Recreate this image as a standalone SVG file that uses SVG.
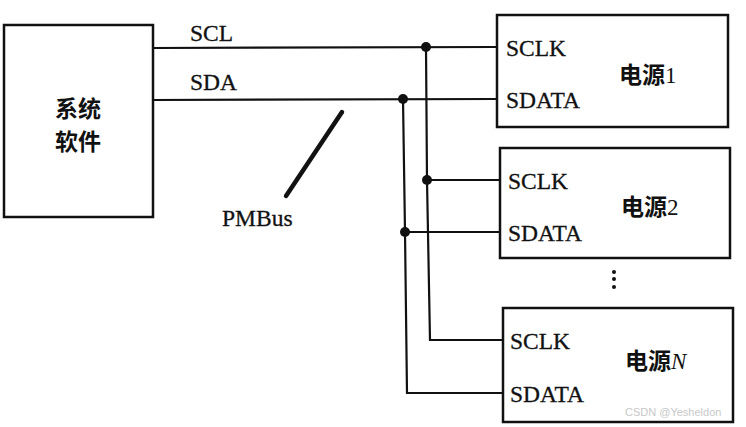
<svg xmlns="http://www.w3.org/2000/svg" width="746" height="427" viewBox="0 0 746 427">
<style>
.box{fill:#fff;stroke:#111;stroke-width:2.5}
.w{fill:none;stroke:#111;stroke-width:2.2}
.t{font-family:"Liberation Serif","Times New Roman",serif;font-size:23.5px;fill:#111;stroke:#111;stroke-width:0.3}
.cn{font-family:"Noto Sans CJK SC",sans-serif;font-size:23px;font-weight:bold;fill:#111}
.d{font-family:"Liberation Serif",serif;font-weight:normal}
.j{fill:#111}
</style>
<rect width="746" height="427" fill="#fff"/>
<g id="system">
<rect class="box" x="4" y="25" width="149" height="192"/>
<text class="cn" x="78" y="117" text-anchor="middle" font-size="22">系统</text>
<text class="cn" x="78" y="150" text-anchor="middle" font-size="22">软件</text>
</g>
<g id="psu1">
<rect class="box" x="497" y="15" width="231" height="112"/>
<text class="t" x="506" y="56">SCLK</text>
<text class="t" x="506" y="108">SDATA</text>
<text class="cn" x="619" y="83">电源<tspan class="d">1</tspan></text>
</g>
<g id="psu2">
<rect class="box" x="500" y="148" width="230" height="110"/>
<text class="t" x="508" y="189">SCLK</text>
<text class="t" x="508" y="241">SDATA</text>
<text class="cn" x="621" y="215">电源<tspan class="d">2</tspan></text>
</g>
<g id="psuN">
<rect class="box" x="503" y="308" width="230" height="114"/>
<text class="t" x="510" y="349">SCLK</text>
<text class="t" x="510" y="402">SDATA</text>
<text class="cn" x="625" y="369">电源<tspan class="d" font-style="italic">N</tspan></text>
</g>
<g id="connectors">
<polyline class="w" points="153,48 497,47"/>
<polyline class="w" points="153,100 497,99"/>
<polyline class="w" points="426,47 427,180 500,180"/>
<polyline class="w" points="427,180 430,340 503,340"/>
<polyline class="w" points="403,99 405,232 500,232"/>
<polyline class="w" points="405,232 407,393 503,393"/>
<circle class="j" cx="426" cy="47" r="5"/>
<circle class="j" cx="403" cy="99" r="5"/>
<circle class="j" cx="427" cy="180" r="5"/>
<circle class="j" cx="405" cy="232" r="5"/>
<line x1="342" y1="112" x2="286" y2="196" stroke="#111" stroke-width="4.5" stroke-linecap="round"/>
</g>
<g id="labels">
<text class="t" x="190" y="41">SCL</text>
<text class="t" x="190" y="90">SDA</text>
<text class="t" x="222" y="226">PMBus</text>
<circle class="j" cx="614" cy="272" r="2"/>
<circle class="j" cx="614" cy="279" r="2"/>
<circle class="j" cx="614" cy="287" r="2"/>
<text x="625" y="416" font-family="Liberation Sans,Arial,sans-serif" font-size="11" fill="#c8c8c8">CSDN @Yesheldon</text>
</g>
</svg>
